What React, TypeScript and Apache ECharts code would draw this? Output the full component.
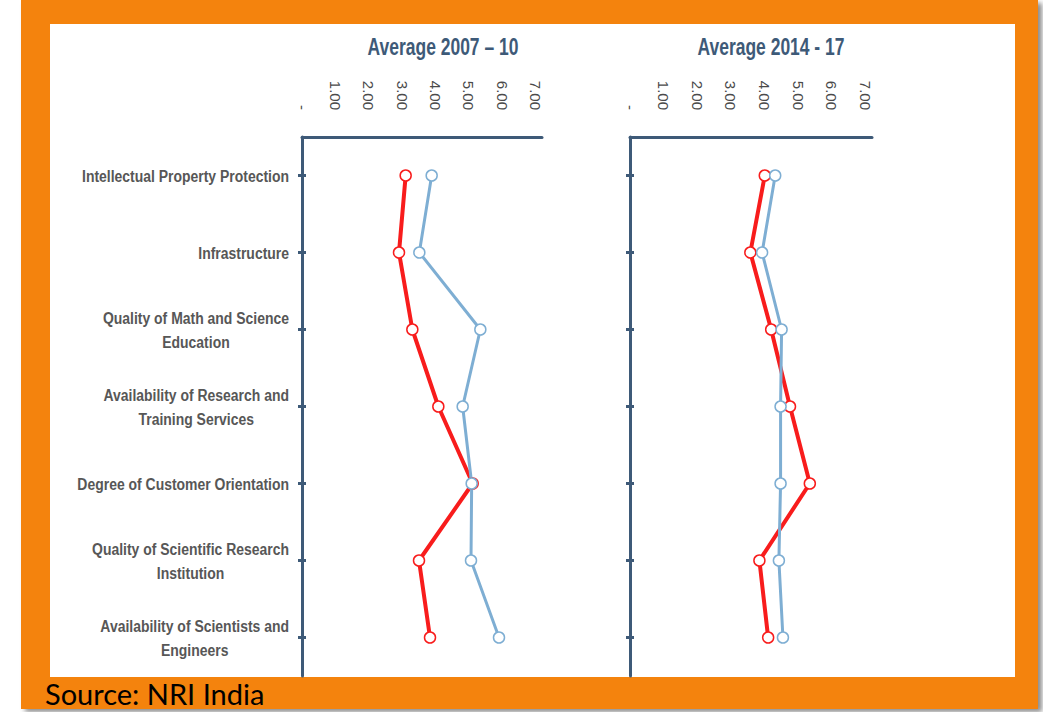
import React, { useEffect, useRef } from "react";
import * as echarts from "echarts";

const categories = [
  "Intellectual Property Protection",
  "Infrastructure",
  "Quality of Math and Science\nEducation",
  "Availability of Research and\nTraining Services",
  "Degree of Customer Orientation",
  "Quality of Scientific Research\nInstitution",
  "Availability of Scientists and\nEngineers",
];
const xTicks = [0, 1, 2, 3, 4, 5, 6, 7];
const panelTitles = ["Average 2007 – 10", "Average 2014 - 17"];
const red0710 = [3.11, 2.91, 3.31, 4.09, 5.12, 3.51, 3.84];
const blue0710 = [3.89, 3.52, 5.35, 4.82, 5.09, 5.07, 5.91];
const red1417 = [4.01, 3.58, 4.2, 4.76, 5.35, 3.85, 4.11];
const blue1417 = [4.32, 3.93, 4.51, 4.48, 4.48, 4.43, 4.55];
const sourceText = "Source: NRI India";

const FONT = '"Liberation Sans", Arial, sans-serif';
const LABEL_SIZE = 17;
const TITLE_SIZE = 23;

function measure(text: string, size: number, weight = "bold"): number {
  const c = document.createElement("canvas");
  const ctx = c.getContext("2d");
  if (!ctx) return text.length * size * 0.5;
  ctx.font = `${weight} ${size}px ${FONT}`;
  return ctx.measureText(text).width;
}

export default function App() {
  const ref = useRef<HTMLDivElement>(null);
  useEffect(() => {
    if (!ref.current) return;
    const chart = echarts.init(ref.current, undefined, { renderer: "svg" });

    const grids = [
      { left: 302, top: 137, width: 240, height: 539 },
      { left: 630, top: 137, width: 242, height: 539 },
    ];
    const axisColor = "#3e5a78";
    const labelColor = "#575757";

    const xAxes: any[] = [];
    const yAxes: any[] = [];
    grids.forEach((_, g) => {
      xAxes.push({
        type: "value",
        gridIndex: g,
        position: "top",
        min: 0,
        max: 7.2,
        interval: 1,
        axisLine: { show: true, lineStyle: { color: axisColor, width: 3 } },
        axisTick: { show: false },
        splitLine: { show: false },
        axisLabel: {
          rotate: 90,
          margin: 27,
          color: "#4a4a4a",
          fontFamily: FONT,
          fontSize: 15,
          formatter: (v: number) =>
            xTicks.includes(v) ? (v === 0 ? "-" : v.toFixed(2)) : "",
        },
      });
      yAxes.push({
        type: "category",
        gridIndex: g,
        inverse: true,
        data: categories,
        position: "left",
        axisLine: { show: true, lineStyle: { color: axisColor, width: 3 } },
        axisTick: {
          show: true,
          alignWithLabel: true,
          length: 4,
          lineStyle: { color: axisColor, width: 3 },
        },
        axisLabel: { show: false },
      });
      yAxes.push({
        type: "category",
        gridIndex: g,
        inverse: true,
        data: categories,
        position: "left",
        axisLine: { show: false },
        axisTick: {
          show: true,
          inside: true,
          alignWithLabel: true,
          length: 4,
          lineStyle: { color: axisColor, width: 3 },
        },
        axisLabel: { show: false },
      });
    });

    const mkSeries = (name: string, vals: number[], g: number, color: string, width: number) => ({
      type: "line",
      name,
      xAxisIndex: g,
      yAxisIndex: g * 2,
      data: vals.map((v, i) => [v, categories[i]]),
      symbol: "circle",
      symbolSize: 11,
      lineStyle: { color, width },
      itemStyle: { color: "#ffffff", borderColor: color, borderWidth: 1.5 },
      z: 3,
    });

    const frame: any[] = [
      {
        type: "rect",
        z: -20,
        shape: { x: 21, y: 0, width: 1017, height: 709 },
        style: {
          fill: "#f4830a",
          shadowBlur: 5,
          shadowOffsetX: 4,
          shadowOffsetY: 3,
          shadowColor: "rgba(0,0,0,0.45)",
        },
      },
      {
        type: "rect",
        z: -19,
        shape: { x: 50, y: 24, width: 965, height: 653 },
        style: { fill: "#ffffff" },
      },
      {
        type: "text",
        z: 10,
        x: 45,
        y: 693,
        style: {
          text: sourceText,
          fill: "#000000",
          font: '29px Lato, "Open Sans", sans-serif',
          verticalAlign: "middle",
        },
      },
    ];

    chart.setOption({
      animation: false,
      graphic: frame,
      grid: grids,
      xAxis: xAxes,
      yAxis: yAxes,
      series: [
        mkSeries("Series A (2007–10)", red0710, 0, "#f81c1c", 4),
        mkSeries("Series B (2007–10)", blue0710, 0, "#7eaed3", 3),
        mkSeries("Series A (2014–17)", red1417, 1, "#f81c1c", 4),
        mkSeries("Series B (2014–17)", blue1417, 1, "#7eaed3", 3),
      ],
    });

    // Narrow-looking labels: real text, horizontally condensed
    const labelScale = 207 / measure(categories[0], LABEL_SIZE);
    const labelRight = grids[0].left - 13;
    const extra: any[] = [];
    categories.forEach((c, i) => {
      const y = chart.convertToPixel({ yAxisIndex: 0 }, c) as unknown as number;
      const lines = c.split("\n");
      if (lines.length === 1) {
        extra.push({
          type: "text",
          x: labelRight,
          y,
          scaleX: labelScale,
          z: 5,
          style: {
            text: lines[0],
            fill: labelColor,
            font: `bold ${LABEL_SIZE}px ${FONT}`,
            align: "right",
            verticalAlign: "middle",
          },
        });
      } else {
        const w = Math.max(...lines.map((l) => measure(l, LABEL_SIZE))) * labelScale;
        const cx = labelRight - w / 2;
        lines.forEach((l, k) => {
          extra.push({
            type: "text",
            x: cx,
            y: y + (k - (lines.length - 1) / 2) * 24,
            scaleX: labelScale,
            z: 5,
            style: {
              text: l,
              fill: labelColor,
              font: `bold ${LABEL_SIZE}px ${FONT}`,
              align: "center",
              verticalAlign: "middle",
            },
          });
        });
      }
    });

    const titleScale = 151 / measure(panelTitles[0], TITLE_SIZE);
    panelTitles.forEach((t, g) => {
      const cx = grids[g].left + 141;
      extra.push({
        type: "text",
        x: cx,
        y: 47,
        scaleX: titleScale,
        z: 5,
        style: {
          text: t,
          fill: axisColor,
          font: `bold ${TITLE_SIZE}px ${FONT}`,
          align: "center",
          verticalAlign: "middle",
        },
      });
    });

    chart.setOption({ graphic: [...frame, ...extra] });
    return () => chart.dispose();
  }, []);
  return (
    <div
      ref={ref}
      style={{ position: "absolute", left: 0, top: 0, width: 1043, height: 712 }}
    />
  );
}
